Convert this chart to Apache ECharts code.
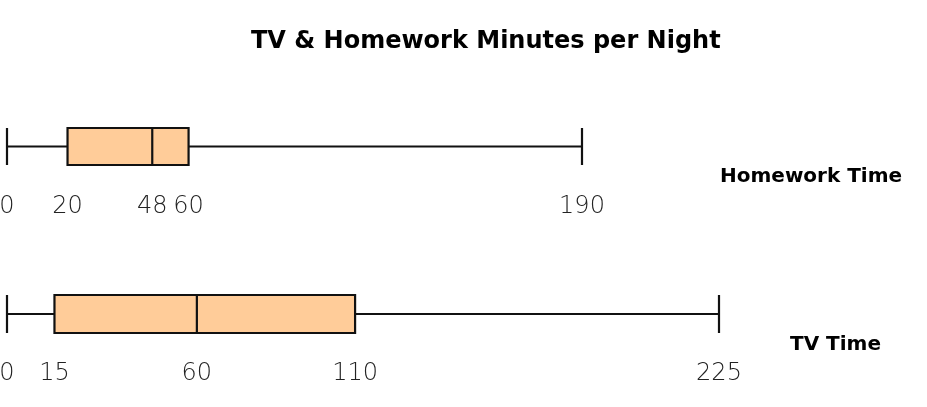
<!DOCTYPE html>
<html>
<head>
<meta charset="utf-8">
<script src="https://cdn.jsdelivr.net/npm/echarts@6/dist/echarts.min.js"></script>
<style>html,body{margin:0;padding:0;background:#fff}#c{width:927px;height:407px}</style>
</head>
<body>
<div id="c"></div>
<script>
const categories = ['Homework Time', 'TV Time'];
const homeworkStats = [0, 20, 48, 60, 190];
const tvStats = [0, 15, 60, 110, 225];
const homeworkTicks = [0, 20, 48, 60, 190];
const tvTicks = [0, 15, 60, 110, 225];

const chart = echarts.init(document.getElementById('c'), null, {renderer: 'canvas'});
const labelFont = {fontFamily: 'DejaVu Sans', fontWeight: 200, fontSize: 24, color: '#222'};
function xAx(grid, max, ticks, margin) {
  return {
    type: 'value', gridIndex: grid, min: 0, max: max,
    axisLine: {show: false}, axisTick: {show: false}, splitLine: {show: false},
    axisLabel: Object.assign({customValues: ticks, margin: margin, showMinLabel: true, showMaxLabel: true, hideOverlap: false}, labelFont)
  };
}
function yAx(grid, name) {
  return {type: 'category', gridIndex: grid, data: [name], show: false};
}
const boxStyle = {color: '#FFCC99', borderColor: '#111', borderWidth: 2.2};
chart.setOption({
  animation: false,
  title: [
    {text: 'TV & Homework Minutes per Night', left: 251, top: 30, padding: 0,
     textStyle: {fontFamily: 'DejaVu Sans', fontWeight: 'bold', fontSize: 24, color: '#000'}},
    {text: categories[0], left: 720, top: 167, padding: 0,
     textStyle: {fontFamily: 'DejaVu Sans', fontWeight: 'bold', fontSize: 20, color: '#000'}},
    {text: categories[1], left: 790, top: 335, padding: 0,
     textStyle: {fontFamily: 'DejaVu Sans', fontWeight: 'bold', fontSize: 20, color: '#000'}}
  ],
  grid: [
    {left: 7, top: 128, width: 575, height: 37, outerBoundsMode: 'none', containLabel: false},
    {left: 7, top: 295, width: 712, height: 38, outerBoundsMode: 'none', containLabel: false}
  ],
  xAxis: [xAx(0, 190, homeworkTicks, 30), xAx(1, 225, tvTicks, 29)],
  yAxis: [yAx(0, categories[0]), yAx(1, categories[1])],
  series: [
    {type: 'boxplot', xAxisIndex: 0, yAxisIndex: 0, boxWidth: [37, 37], itemStyle: boxStyle, data: [homeworkStats]},
    {type: 'boxplot', xAxisIndex: 1, yAxisIndex: 1, boxWidth: [38, 38], itemStyle: boxStyle, data: [tvStats]}
  ]
});
</script>
</body>
</html>
